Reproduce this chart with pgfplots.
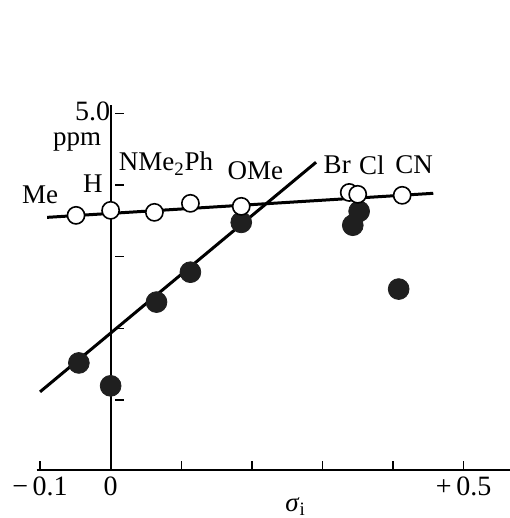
\documentclass[border=0pt]{standalone}
\usepackage{fontspec}
\setmainfont{Liberation Serif}
\usepackage{pgfplots}
\pgfplotsset{compat=1.18}

\begin{document}
\begin{tikzpicture}
\fontsize{13.5}{15}\selectfont
\useasboundingbox (0,0) rectangle (254.5pt,259pt);
\begin{axis}[
  scale only axis, width=236.5pt, height=182.5pt,
  at={(18.25pt,24pt)}, anchor=south west,
  xmin=-0.105, xmax=0.565, ymin=2.51, ymax=5.06,
  axis x line=bottom, axis y line=middle,
  axis line style={-, line width=0.9pt},
  xtick={-0.1,0,0.1,0.2,0.3,0.4,0.5},
  xticklabels={−\,0.1,0,,,,,+\,0.5},
  ytick={3,3.5,4,4.5,5},
  yticklabels={,,,,5.0},
  tick align=inside, major tick length=4.5pt,
  tick style={line width=0.7pt, black},
  ytick style={xshift=2.25pt},
  /pgf/number format/assume math mode=true,
  tick label style={font=\fontsize{14}{15}\selectfont, inner sep=1pt},
  xticklabel style={yshift=-2pt},
  yticklabel style={xshift=1pt, yshift=1pt},
  clip=false,
]
% fitted lines
\addplot[line width=1.5pt] coordinates {(-0.100,3.056) (0.291,4.660)};
\addplot[line width=1.5pt] coordinates {(-0.090,4.275) (0.457,4.443)};
% filled circles
\addplot[only marks, mark=*, mark size=5.2pt, mark options={fill=black!88, draw=black!88}] coordinates {
  (-0.045,3.258) (0.000,3.098) (0.065,3.683) (0.113,3.892)
  (0.185,4.240) (0.343,4.220) (0.352,4.317) (0.408,3.774)};
% open circles
\addplot[only marks, mark=*, mark size=4.3pt, mark options={fill=white, draw=black, line width=0.8pt}] coordinates {
  (-0.049,4.289) (0.000,4.324) (0.062,4.310) (0.113,4.373)
  (0.185,4.352) (0.338,4.449) (0.350,4.436) (0.413,4.429)};
% labels
\node at (axis cs:-0.100,4.43) {Me};
\node at (axis cs:-0.025,4.51) {H};
\node[anchor=west, inner sep=0pt] at (axis cs:0.011,4.65) {NMe\textsubscript{2}Ph};
\node at (axis cs:0.205,4.60) {OMe};
\node at (axis cs:0.321,4.64) {Br};
\node at (axis cs:0.370,4.64) {Cl};
\node at (axis cs:0.430,4.64) {CN};
\node[inner sep=1pt] at (axis cs:-0.0475,4.80) {ppm};
\node[anchor=south, inner sep=0pt] at (axis cs:0.262,2.19) {\textit{σ}\textsubscript{i}};
\end{axis}
\end{tikzpicture}
\end{document}
